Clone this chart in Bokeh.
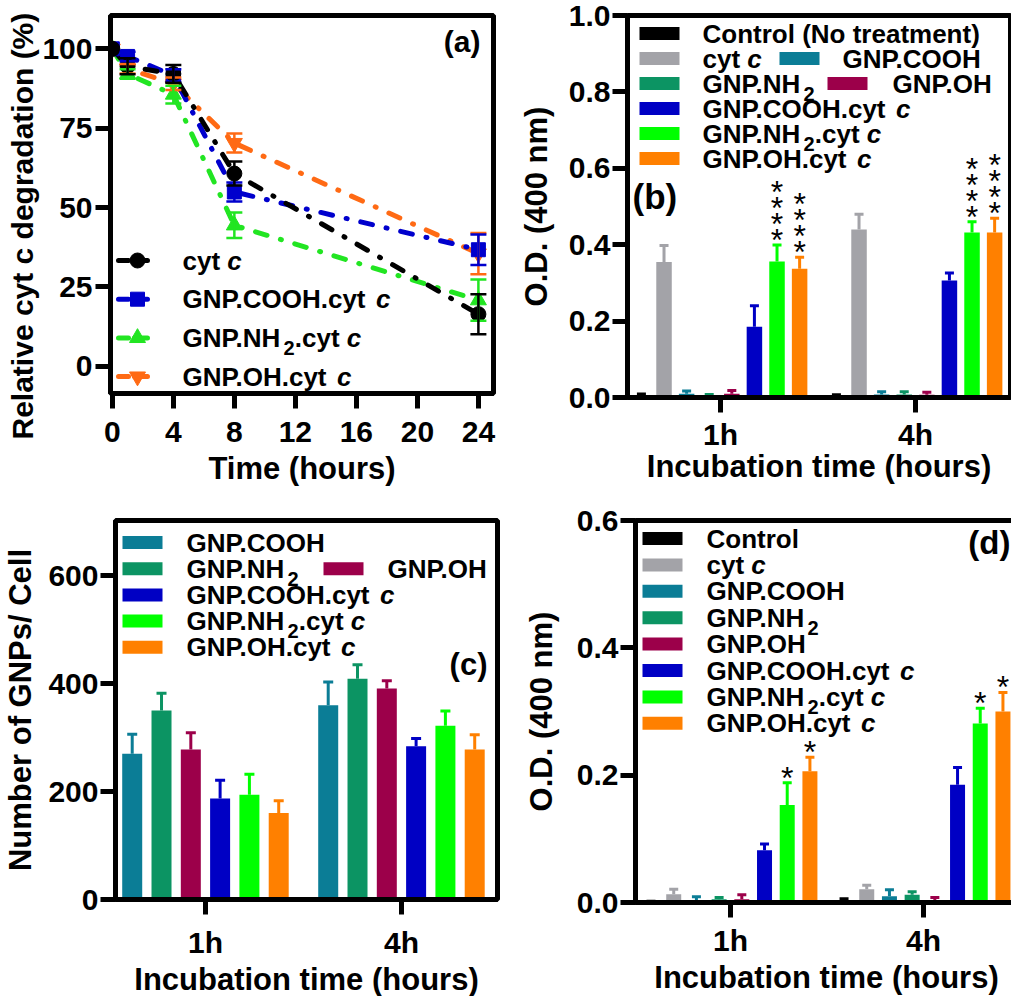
import math
from bokeh.plotting import figure
from bokeh.models import (Range1d, FixedTicker, Whisker, TeeHead, ColumnDataSource,
                          Title, PrintfTickFormatter)
from bokeh.layouts import column, row
from bokeh.core.properties import value
from bokeh.embed import file_html
from bokeh.resources import INLINE

FONT = "Liberation Sans"

# ---------------- data: panel (a) ----------------
times = [0, 1, 4, 8, 24]
a_cytc = [100, 94.5, 92.1, 60.7, 16.4]
a_cytc_err = [0, 2.5, 2.8, 3.8, 6.3]
a_cooh = [100, 97.6, 91.6, 54.9, 36.7]
a_cooh_err = [0, 1.5, 2.0, 3.0, 4.8]
a_nh2 = [100, 92.1, 85.6, 44.4, 20.8]
a_nh2_err = [0, 1.5, 2.8, 4.0, 6.5]
a_oh = [100, 93.7, 89.0, 70.3, 35.5]
a_oh_err = [0, 1.5, 2.0, 3.0, 6.5]
a_names = ["cyt c", "GNP.COOH.cyt c", "GNP.NH2.cyt c", "GNP.OH.cyt c"]

# ---------------- data: bar panels ----------------
group_labels = ["1h", "4h"]

b_names = ["Control (No treatment)", "cyt c", "GNP.COOH", "GNP.NH2", "GNP.OH",
           "GNP.COOH.cyt c", "GNP.NH2.cyt c", "GNP.OH.cyt c"]
b_1h = [0.005, 0.355, 0.010, 0.005, 0.010, 0.185, 0.356, 0.337]
b_1h_err = [0.004, 0.043, 0.007, 0.003, 0.008, 0.055, 0.043, 0.030]
b_4h = [0.004, 0.440, 0.008, 0.008, 0.007, 0.306, 0.432, 0.432]
b_4h_err = [0.003, 0.040, 0.007, 0.007, 0.007, 0.020, 0.028, 0.037]
b_stars = [0, 0, 0, 0, 0, 0, 4, 4]

c_names = ["GNP.COOH", "GNP.NH2", "GNP.OH", "GNP.COOH.cyt c", "GNP.NH2.cyt c", "GNP.OH.cyt c"]
c_1h = [270, 350, 278, 187, 194, 160]
c_1h_err = [36, 32, 31, 34, 38, 23]
c_4h = [360, 409, 391, 284, 322, 278]
c_4h_err = [43, 26, 14, 14, 27, 27]

d_names = ["Control", "cyt c", "GNP.COOH", "GNP.NH2", "GNP.OH",
           "GNP.COOH.cyt c", "GNP.NH2.cyt c", "GNP.OH.cyt c"]
d_1h = [0.001, 0.013, 0.002, 0.005, 0.005, 0.082, 0.153, 0.206]
d_1h_err = [0.001, 0.008, 0.007, 0.003, 0.007, 0.010, 0.035, 0.022]
d_4h = [0.002, 0.021, 0.010, 0.012, 0.004, 0.185, 0.281, 0.300]
d_4h_err = [0.004, 0.006, 0.010, 0.005, 0.004, 0.027, 0.024, 0.030]
d_stars = [0, 0, 0, 0, 0, 0, 1, 1]

# ---------------- styles ----------------
bar_colors = ["#000000", "#A3A3A8", "#0B7D96", "#0C9463", "#9C004A",
              "#0000C4", "#00FF00", "#FF8000"]
a_colors = ["#000000", "#0000CD", "#22E522", "#FF6A14"]
a_markers = ["circle", "square", "triangle", "inverted_triangle"]
a_msize = [15, 14, 16, 16]

W = {' ': 278, '(': 333, ')': 333, '.': 278, '*': 389, '%': 889, '/': 278,
     'C': 722, 'G': 778, 'H': 722, 'N': 722, 'O': 778, 'P': 667, 'D': 722,
     'a': 556, 'b': 611, 'c': 556, 'd': 611, 'e': 556, 'g': 611, 'h': 611,
     'i': 278, 'l': 278, 'm': 889, 'n': 611, 'o': 611, 'r': 389, 's': 556,
     't': 333, 'u': 611, 'v': 556, 'y': 556}


def tw(s, size):
    return sum(W.get(ch, 556) for ch in s) / 1000.0 * size


def segments(name):
    italic_c = name.endswith("cyt c")
    body = name[:-1] if italic_c else name
    if "NH2" in body:
        a, b = body.split("NH2", 1)
        out = [(a + "NH", "b"), ("2", "sub")]
        if b:
            out.append((b, "b"))
    else:
        out = [(body, "b")]
    if italic_c:
        out.append(("c", "bi"))
    return out


def f2d(P, px, py):
    x0, x1 = P["xr"]
    y0, y1 = P["yr"]
    return x0 + px * (x1 - x0) / P["fw"], y1 - py * (y1 - y0) / P["fh"]


def dxp(P, px):
    return px * (P["xr"][1] - P["xr"][0]) / P["fw"]


def dyp(P, px):
    return px * (P["yr"][1] - P["yr"][0]) / P["fh"]


def make_fig(P, bl, br, bt, bb):
    p = figure(frame_width=P["fw"], frame_height=P["fh"],
               x_range=Range1d(*P["xr"]), y_range=Range1d(*P["yr"]),
               min_border_left=bl, min_border_right=br,
               min_border_top=bt, min_border_bottom=bb, title=None,
               output_backend="svg", toolbar_location=None, tools="")
    p.grid.visible = False
    p.outline_line_color = "black"
    p.outline_line_width = 5
    p.outline_line_alpha = 1.0
    p.border_fill_color = "white"
    p.background_fill_color = "white"
    for ax in p.axis:
        ax.axis_line_width = 5
        ax.axis_line_color = "black"
        ax.major_tick_line_width = 5
        ax.major_tick_line_color = "black"
        ax.major_tick_in = 0
        ax.major_tick_out = 15
        ax.minor_tick_line_color = None
        ax.major_label_text_font = FONT
        ax.major_label_text_font_style = "bold"
        ax.major_label_text_font_size = "30px"
        ax.major_label_text_color = "black"
        ax.axis_label_text_font = FONT
        ax.axis_label_text_font_style = "bold"
        ax.axis_label_text_font_size = "31px"
        ax.axis_label_text_color = "black"
    return p


# text anchors: the rendered cap-centre sits at the anchor (measured)
def rich(p, P, px, py, name, size=26):
    fsub = round(size * 0.78)
    bx, by = f2d(P, px, py)
    _, bys = f2d(P, px, py + 0.36 * size + 0.31 * size - 0.36 * fsub)
    off = 0.0
    for txt, kind in segments(name):
        fs = fsub if kind == "sub" else size
        yy = bys if kind == "sub" else by
        style = "bold italic" if kind == "bi" else "bold"
        s = txt.rstrip(" ")
        if s:
            p.text(x=[bx], y=[yy], text=[s], x_offset=off,
                   text_font=value(FONT), text_font_style=style,
                   text_font_size=f"{fs}px", text_color="black",
                   text_align="left", text_baseline="alphabetic")
        off += tw(txt, fs)


def swatch(p, P, px, py, color):
    cx, cy = f2d(P, px, py)
    p.rect(x=[cx], y=[cy], width=40, height=13, width_units="screen",
           height_units="screen", fill_color=color, line_color=None)


def panel_tag(p, P, px, py, txt, size, align):
    x, y = f2d(P, px, py - 0.1 * size)
    p.text(x=[x], y=[y], text=[txt], text_font=value(FONT), text_font_style="bold",
           text_font_size=f"{size}px", text_color="black", text_align=align,
           text_baseline="alphabetic")


def bars(p, P, g_vals, g_errs, colors, step_px, width_px, cap_px, stars=None):
    n = len(colors)
    gpos = [i + 1 for i in range(len(group_labels))]
    for i in range(n):
        xs = [g + (i - (n - 1) / 2) * dxp(P, step_px) for g in gpos]
        tops = [gv[i] for gv in g_vals]
        errs = [ge[i] for ge in g_errs]
        ups = [t + e for t, e in zip(tops, errs)]
        p.vbar(x=xs, top=tops, bottom=0, width=dxp(P, width_px),
               fill_color=colors[i], line_color=None)
        src = ColumnDataSource(dict(base=xs, lower=tops, upper=ups))
        p.add_layout(Whisker(source=src, base="base", lower="lower", upper="upper",
                             dimension="height", line_color=colors[i], line_width=3,
                             upper_head=TeeHead(size=cap_px, line_color=colors[i], line_width=3),
                             lower_head=None))
        if stars:
            for x, u in zip(xs, ups):
                for k in range(stars[i]):
                    fs = 32
                    yy = u + dyp(P, 12 - 0.213 * fs + 16 * k)
                    p.text(x=[x], y=[yy], text=["*"], text_font=value(FONT),
                           text_font_size=f"{fs}px", text_color="black",
                           text_align="center", text_baseline="alphabetic")


def bar_axes(p, ticks, fmt, xstand, xlabstand, ylabstand):
    p.xaxis.ticker = FixedTicker(ticks=[i + 1 for i in range(len(group_labels))])
    p.xaxis.major_label_overrides = {i + 1: lab for i, lab in enumerate(group_labels)}
    p.xaxis.axis_label = "Incubation time (hours)"
    p.xaxis.major_label_standoff = xstand
    p.xaxis.axis_label_standoff = xlabstand
    p.yaxis.ticker = FixedTicker(ticks=ticks)
    p.yaxis.formatter = PrintfTickFormatter(format=fmt)
    p.yaxis.major_label_standoff = 2
    p.yaxis.axis_label_standoff = ylabstand


# ---------------- panel (a) ----------------
A = dict(xr=(-0.12, 24.99), yr=(-8.6, 110.5), fw=383, fh=378)
pa = make_fig(A, 110, 22, 12, 106)
pa.xaxis.ticker = FixedTicker(ticks=[0, 4, 8, 12, 16, 20, 24])
pa.yaxis.ticker = FixedTicker(ticks=[0, 25, 50, 75, 100])
pa.xaxis.axis_label = "Time (hours)"
pa.xaxis.major_label_standoff = 13
pa.xaxis.axis_label_standoff = 6
pa.yaxis.major_label_standoff = 3

a_vals = [a_cytc, a_cooh, a_nh2, a_oh]
a_errs = [a_cytc_err, a_cooh_err, a_nh2_err, a_oh_err]
DASH = "12 14 1 14"
for j in [3, 2, 1, 0]:
    pa.line(times, a_vals[j], line_color=a_colors[j], line_width=5,
            line_dash=DASH, line_cap="round")
for j in [3, 2, 1, 0]:
    idx = [k for k in range(len(times)) if a_errs[j][k] > 0]
    src = ColumnDataSource(dict(base=[times[k] for k in idx],
                                lower=[a_vals[j][k] - a_errs[j][k] for k in idx],
                                upper=[a_vals[j][k] + a_errs[j][k] for k in idx]))
    pa.add_layout(Whisker(source=src, base="base", lower="lower", upper="upper",
                          dimension="height", line_color=a_colors[j], line_width=2.5,
                          upper_head=TeeHead(size=16, line_color=a_colors[j], line_width=2.5),
                          lower_head=TeeHead(size=16, line_color=a_colors[j], line_width=2.5),
                          level="glyph"))
for j in [3, 2, 1, 0]:
    pa.scatter(times, a_vals[j], marker=a_markers[j], size=a_msize[j],
               fill_color=a_colors[j], line_color=a_colors[j])

for j, name in enumerate(a_names):
    ry = 245 + 38.7 * j
    x0, yl = f2d(A, 8, ry)
    x1, _ = f2d(A, 37, ry)
    xm, _ = f2d(A, 27, ry)
    pa.line([x0, x1], [yl, yl], line_color=a_colors[j], line_width=5,
            line_dash="10 6 1 6", line_cap="round")
    pa.scatter([xm], [yl], marker=a_markers[j], size=a_msize[j],
               fill_color=a_colors[j], line_color=a_colors[j])
    rich(pa, A, 72, ry, name, 26)
panel_tag(pa, A, 370, 29, "(a)", 30, "right")

pa.add_layout(Title(text="Relative cyt c degradation (%)", align="left", offset=-46,
                    standoff=2, text_font=FONT, text_font_style="bold",
                    text_font_size="30px", text_color="black"), "left")

# ---------------- panel (b) ----------------
B = dict(xr=(0.523, 2.487), yr=(0.0, 1.0), fw=383, fh=382)
pb = make_fig(B, 110, 2, 15, 99)
bar_axes(pb, [0, 0.2, 0.4, 0.6, 0.8, 1.0], "%.1f", 5, -5, 12)
pb.yaxis.axis_label = "O.D. (400 nm)"
bars(pb, B, [b_1h, b_4h], [b_1h_err, b_4h_err], bar_colors, 22.6, 15.5, 9, b_stars)
b_rows = [18 + 25 * k for k in range(6)]
b_layout = [(0, 0, 12), (1, 1, 12), (2, 1, 152), (3, 2, 12), (4, 2, 200),
            (5, 3, 12), (6, 4, 12), (7, 5, 12)]
b_text_dx = {12: 63, 152: 63, 200: 65}
for i, r, sx in b_layout:
    swatch(pb, B, sx + 20, b_rows[r], bar_colors[i])
    rich(pb, B, sx + b_text_dx[sx], b_rows[r], b_names[i], 26)
panel_tag(pb, B, 5, 184, "(b)", 35, "left")

# ---------------- panel (c) ----------------
C = dict(xr=(0.541, 2.490), yr=(0, 702), fw=382, fh=379)
pc = make_fig(C, 110, 23, 22, 97)
bar_axes(pc, [0, 200, 400, 600], "%d", 11, 0, 7)
pc.yaxis.axis_label = "Number of GNPs/ Cell"
bars(pc, C, [c_1h, c_4h], [c_1h_err, c_4h_err], bar_colors[2:], 29.3, 20, 10)
c_rows = [22 + 26.2 * k for k in range(5)]
c_layout = [(0, 0, 7), (1, 1, 7), (2, 1, 208), (3, 2, 7), (4, 3, 7), (5, 4, 7)]
for i, r, sx in c_layout:
    swatch(pc, C, sx + 20, c_rows[r], bar_colors[2 + i])
    rich(pc, C, sx + 64, c_rows[r], c_names[i], 26)
panel_tag(pc, C, 372, 147, "(c)", 31, "right")

# ---------------- panel (d) ----------------
D = dict(xr=(0.508, 2.487), yr=(0.0, 0.6), fw=382, fh=382)
pd = make_fig(D, 112, 1, 24, 92)
bar_axes(pd, [0, 0.2, 0.4, 0.6], "%.1f", 6, 0, 15)
pd.yaxis.axis_label = "O.D. (400 nm)"
bars(pd, D, [d_1h, d_4h], [d_1h_err, d_4h_err], bar_colors, 22.7, 15, 9, d_stars)
for i, name in enumerate(d_names):
    ry = 18 + 26.4 * i
    swatch(pd, D, 27, ry, bar_colors[i])
    rich(pd, D, 71, ry, name, 26)
panel_tag(pd, D, 375, 25, "(d)", 33, "right")

layout = column(row(pa, pb), row(pc, pd))
open("out.html", "w").write(file_html(layout, INLINE))
